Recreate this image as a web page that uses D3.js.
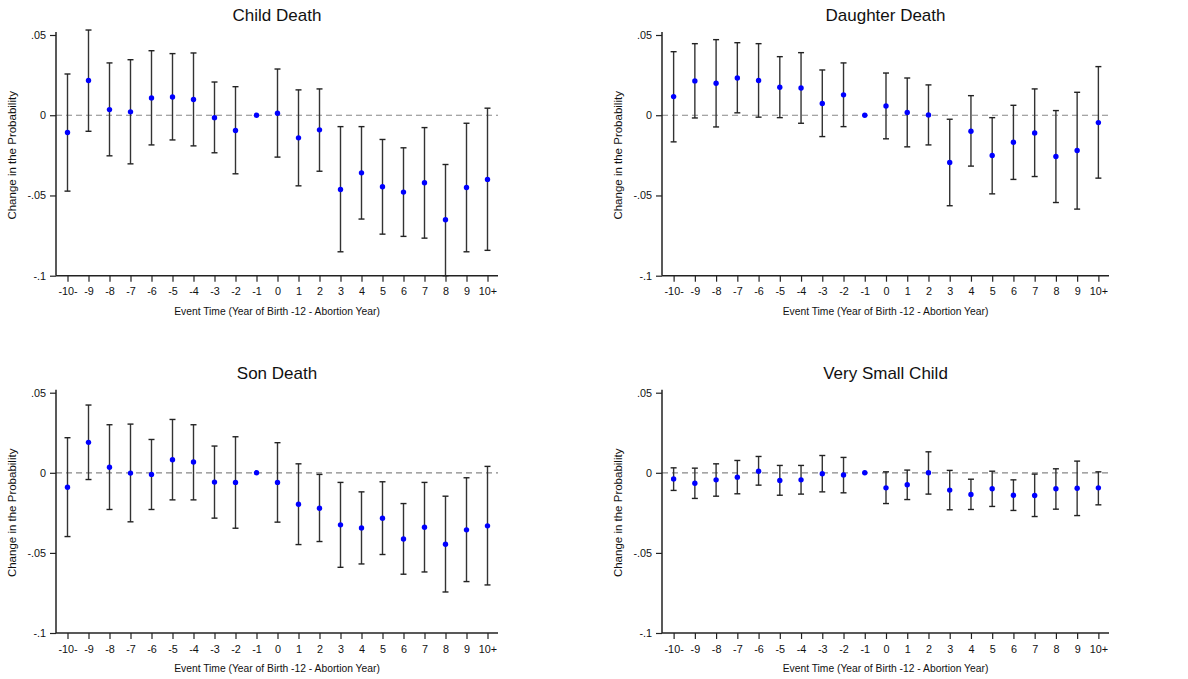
<!DOCTYPE html>
<html><head><meta charset="utf-8">
<script src="https://cdn.jsdelivr.net/npm/d3@7"></script>
<style>body{margin:0;background:#fff}svg{display:block}text{font-family:"Liberation Sans",Arial,sans-serif}</style>
</head><body>
<script>
const categories = ["-10-","-9","-8","-7","-6","-5","-4","-3","-2","-1","0","1","2","3","4","5","6","7","8","9","10+"];
const yTicks = [0.05, 0, -0.05, -0.1];
const yTickLabels = [".05", "0", "-.05", "-.1"];

const childEst = [-0.0108,0.0216,0.0035,0.0021,0.0108,0.0114,0.0098,-0.0015,-0.0095,0,0.0012,-0.0141,-0.0091,-0.0463,-0.0359,-0.0446,-0.0479,-0.0421,-0.0651,-0.045,-0.04];
const childLo  = [-0.0473,-0.0100,-0.0253,-0.0303,-0.0185,-0.0154,-0.0191,-0.0234,-0.0365,null,-0.0261,-0.0440,-0.0349,-0.0851,-0.0647,-0.0741,-0.0755,-0.0766,-0.1000,-0.0851,-0.0842];
const childHi  = [0.0257,0.0531,0.0326,0.0346,0.0402,0.0384,0.0388,0.0207,0.0178,null,0.0288,0.0158,0.0164,-0.0071,-0.0071,-0.0151,-0.0203,-0.0077,-0.0307,-0.0050,0.0044];

const daughterEst = [0.0116,0.0214,0.0199,0.0232,0.0216,0.0174,0.0170,0.0073,0.0127,0,0.0058,0.0017,0.0002,-0.0295,-0.0100,-0.0251,-0.0168,-0.0110,-0.0257,-0.0220,-0.0046];
const daughterLo  = [-0.0166,-0.0017,-0.0073,0.0015,-0.0012,-0.0015,-0.0050,-0.0133,-0.0071,null,-0.0147,-0.0197,-0.0185,-0.0564,-0.0317,-0.0490,-0.0400,-0.0382,-0.0544,-0.0585,-0.0392];
const daughterHi  = [0.0396,0.0446,0.0471,0.0452,0.0446,0.0365,0.0390,0.0282,0.0326,null,0.0263,0.0232,0.0189,-0.0025,0.0122,-0.0015,0.0062,0.0164,0.0029,0.0143,0.0303];

const sonEst = [-0.0090,0.0190,0.0035,-0.0002,-0.0010,0.0081,0.0067,-0.0058,-0.0060,0,-0.0060,-0.0196,-0.0221,-0.0325,-0.0344,-0.0283,-0.0413,-0.0340,-0.0446,-0.0356,-0.0331];
const sonLo  = [-0.0398,-0.0042,-0.0229,-0.0306,-0.0229,-0.0169,-0.0169,-0.0283,-0.0346,null,-0.0308,-0.0448,-0.0429,-0.0590,-0.0569,-0.0510,-0.0633,-0.0619,-0.0744,-0.0679,-0.0700];
const sonHi  = [0.0219,0.0423,0.0300,0.0304,0.0208,0.0333,0.0300,0.0167,0.0225,null,0.0188,0.0056,-0.0010,-0.0060,-0.0119,-0.0056,-0.0192,-0.0060,-0.0146,-0.0031,0.0040];

const smallEst = [-0.0038,-0.0065,-0.0044,-0.0027,0.0010,-0.0048,-0.0044,-0.0006,-0.0013,0,-0.0094,-0.0075,0.0000,-0.0108,-0.0135,-0.0100,-0.0140,-0.0142,-0.0100,-0.0096,-0.0094];
const smallLo  = [-0.0110,-0.0160,-0.0146,-0.0131,-0.0077,-0.0140,-0.0133,-0.0119,-0.0125,null,-0.0192,-0.0167,-0.0133,-0.0231,-0.0229,-0.0210,-0.0235,-0.0273,-0.0227,-0.0267,-0.0200];
const smallHi  = [0.0031,0.0029,0.0056,0.0077,0.0102,0.0046,0.0046,0.0108,0.0096,null,0.0006,0.0017,0.0131,0.0015,-0.0040,0.0010,-0.0044,-0.0008,0.0025,0.0073,0.0006];

const titles = ["Child Death","Daughter Death","Son Death","Very Small Child"];
const xTitle = "Event Time (Year of Birth -12 - Abortion Year)";
const yTitle = "Change in the Probability";

const W = 1188, H = 679;
const svg = d3.select("body").append("svg").attr("width", W).attr("height", H);

const panels = [
  {title: titles[0], est: childEst, lo: childLo, hi: childHi, x0: 56, x1: 498, y0: 35, y1: 275.7},
  {title: titles[1], est: daughterEst, lo: daughterLo, hi: daughterHi, x0: 662, x1: 1109, y0: 35, y1: 275.7},
  {title: titles[2], est: sonEst, lo: sonLo, hi: sonHi, x0: 56, x1: 498, y0: 392.7, y1: 633},
  {title: titles[3], est: smallEst, lo: smallLo, hi: smallHi, x0: 662, x1: 1109, y0: 392.7, y1: 633}
];

panels.forEach(p => {
  const g = svg.append("g");
  const x = d3.scalePoint().domain(categories).range([p.x0 + 1, p.x1]).padding(0.5);
  const y = d3.scaleLinear().domain([-0.1, 0.05]).range([p.y1, p.y0]);

  // title
  g.append("text").attr("x", (p.x0 + p.x1) / 2).attr("y", p.y0 - 14)
    .attr("text-anchor", "middle").attr("font-size", 17).attr("fill", "#111").text(p.title);

  // zero line
  g.append("line").attr("x1", p.x0).attr("x2", p.x1).attr("y1", y(0)).attr("y2", y(0))
    .attr("stroke", "#888").attr("stroke-width", 1.2).attr("stroke-dasharray", "6,4");

  // y axis
  const ya = d3.axisLeft(y).tickValues(yTicks).tickFormat((d, i) => yTickLabels[i]).tickSize(6).tickPadding(4);
  const yg = g.append("g").attr("transform", `translate(${p.x0},0)`).call(ya);
  yg.select(".domain").remove();
  yg.selectAll(".tick line").attr("stroke", "#222").attr("stroke-width", 1.2);
  yg.selectAll(".tick text").attr("font-size", 10.8).attr("fill", "#111").attr("font-family", '"Liberation Sans",Arial,sans-serif');
  g.append("line").attr("x1", p.x0).attr("x2", p.x0).attr("y1", p.y0 - 3).attr("y2", p.y1)
    .attr("stroke", "#222").attr("stroke-width", 1.5);

  // x axis
  const xa = d3.axisBottom(x).tickSize(6).tickPadding(6);
  const xg = g.append("g").attr("transform", `translate(0,${p.y1})`).call(xa);
  xg.select(".domain").remove();
  xg.selectAll(".tick line").attr("stroke", "#222").attr("stroke-width", 1.2);
  xg.selectAll(".tick text").attr("font-size", 10.8).attr("fill", "#111").attr("font-family", '"Liberation Sans",Arial,sans-serif');
  g.append("line").attr("x1", p.x0).attr("x2", p.x1).attr("y1", p.y1).attr("y2", p.y1)
    .attr("stroke", "#222").attr("stroke-width", 1.5);

  // axis titles
  g.append("text").attr("x", (p.x0 + p.x1) / 2).attr("y", p.y1 + 39)
    .attr("text-anchor", "middle").attr("font-size", 10.3).attr("fill", "#111").text(xTitle);
  g.append("text").attr("transform", `translate(${p.x0 - 40},${(p.y0 + p.y1) / 2}) rotate(-90)`)
    .attr("text-anchor", "middle").attr("font-size", 11.5).attr("fill", "#111").text(yTitle);

  const data = categories.map((c, i) => ({c, est: p.est[i], lo: p.lo[i], hi: p.hi[i]}));
  const ci = data.filter(d => d.lo !== null && d.hi !== null);
  const cap = 3;
  g.selectAll(".bar").data(ci).enter().append("line")
    .attr("x1", d => x(d.c)).attr("x2", d => x(d.c)).attr("y1", d => y(d.lo)).attr("y2", d => y(d.hi))
    .attr("stroke", "#333").attr("stroke-width", 1.4);
  g.selectAll(".capHi").data(ci).enter().append("line")
    .attr("x1", d => x(d.c) - cap).attr("x2", d => x(d.c) + cap).attr("y1", d => y(d.hi)).attr("y2", d => y(d.hi))
    .attr("stroke", "#222").attr("stroke-width", 1.4);
  g.selectAll(".capLo").data(ci).enter().append("line")
    .attr("x1", d => x(d.c) - cap).attr("x2", d => x(d.c) + cap).attr("y1", d => y(d.lo)).attr("y2", d => y(d.lo))
    .attr("stroke", "#222").attr("stroke-width", 1.4);
  g.selectAll(".pt").data(data).enter().append("circle")
    .attr("cx", d => x(d.c)).attr("cy", d => y(d.est)).attr("r", 2.7).attr("fill", "#0000ff");
});
</script>
</body></html>
